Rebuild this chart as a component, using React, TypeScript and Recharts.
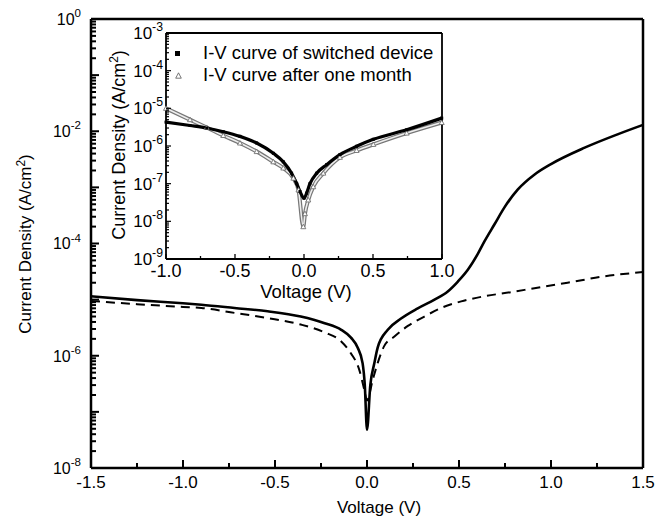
import React from 'react';
import { LineChart, Line, XAxis, YAxis, ReferenceLine } from 'recharts';

// main plot: solid curve
const solidV = [-1.5, -1.25, -1.0, -0.9, -0.72, -0.54, -0.36, -0.23, -0.14, -0.087, -0.051, -0.024, -0.012, 0, 0.018, 0.04, 0.058, 0.113, 0.185, 0.276, 0.367, 0.439, 0.494, 0.548, 0.603, 0.639, 0.693, 0.747, 0.82, 0.911, 1.0, 1.183, 1.365, 1.5];
const solidJ = [1.15e-5, 9.8e-6, 8.6e-6, 8.1e-6, 7.1e-6, 6.2e-6, 5.0e-6, 3.8e-6, 2.9e-6, 2.1e-6, 1.4e-6, 7.4e-7, 3.0e-7, 4.8e-8, 3.0e-7, 7.4e-7, 1.4e-6, 2.9e-6, 4.6e-6, 7.0e-6, 1.0e-5, 1.4e-5, 2.1e-5, 3.4e-5, 6.6e-5, 1.1e-4, 2.2e-4, 4.4e-4, 9.2e-4, 1.7e-3, 2.6e-3, 5.1e-3, 8.9e-3, 1.3e-2];

// main plot: dashed curve
const dashedV = [-1.5, -1.25, -1.0, -0.9, -0.72, -0.54, -0.36, -0.23, -0.14, -0.087, -0.042, -0.015, 0, 0.031, 0.058, 0.094, 0.149, 0.222, 0.312, 0.403, 0.512, 0.639, 0.784, 0.91, 1.09, 1.29, 1.5];
const dashedJ = [9.5e-6, 8.3e-6, 7.4e-6, 7.1e-6, 5.8e-6, 4.7e-6, 3.6e-6, 2.6e-6, 1.8e-6, 1.1e-6, 5.6e-7, 2.5e-7, 1.6e-7, 3.7e-7, 7.4e-7, 1.5e-6, 2.2e-6, 3.4e-6, 5.0e-6, 7.1e-6, 9.3e-6, 1.15e-5, 1.36e-5, 1.6e-5, 2.0e-5, 2.6e-5, 3.1e-5];

// inset: switched device
const switchedV = [-1.0, -0.826, -0.705, -0.585, -0.464, -0.343, -0.222, -0.15, -0.09, -0.053, -0.029, 0, 0.019, 0.043, 0.092, 0.164, 0.26, 0.381, 0.502, 0.744, 0.998];
const switchedJ = [4.3e-6, 3.5e-6, 3.0e-6, 2.4e-6, 1.8e-6, 1.2e-6, 6.4e-7, 3.8e-7, 1.9e-7, 1.0e-7, 6.2e-8, 4.1e-8, 5.6e-8, 1.0e-7, 1.9e-7, 3.2e-7, 5.9e-7, 9.8e-7, 1.5e-6, 2.7e-6, 5.5e-6];

// inset: after one month
const monthV = [-1.0, -0.826, -0.705, -0.585, -0.464, -0.343, -0.222, -0.15, -0.077, -0.04, -0.005, 0.007, 0.031, 0.067, 0.14, 0.26, 0.381, 0.502, 0.744, 0.998];
const monthJ = [1.0e-5, 5.0e-6, 3.1e-6, 1.9e-6, 1.2e-6, 7.1e-7, 3.8e-7, 2.6e-7, 1.4e-7, 6.8e-8, 7.2e-9, 1.6e-8, 3.7e-8, 8.3e-8, 1.9e-7, 5.0e-7, 7.6e-7, 1.1e-6, 2.2e-6, 4.2e-6];

const mainXTicks = [-1.5, -1.25, -1.0, -0.75, -0.5, -0.25, 0, 0.25, 0.5, 0.75, 1.0, 1.25, 1.5];
const insetXTicks = [-1.0, -0.75, -0.5, -0.25, 0, 0.25, 0.5, 0.75, 1.0];
const mainDecades = [1e-8, 1e-7, 1e-6, 1e-5, 1e-4, 1e-3, 1e-2, 1e-1, 1];
const insetDecades = [1e-9, 1e-8, 1e-7, 1e-6, 1e-5, 1e-4, 1e-3];
const minorSteps = [2, 3, 4, 5, 6, 7, 8, 9];

const FONT = '"Liberation Sans", Arial, sans-serif';

const toRows = (xs: number[], ys: number[]) => xs.map((v, i) => ({ v, j: ys[i] }));
const logTicks = (decades: number[]) => {
  const top = decades[decades.length - 1];
  const out: number[] = [];
  decades.forEach((d) => {
    out.push(d);
    if (d < top) minorSteps.forEach((k) => out.push(k * d));
  });
  return out;
};

const solidData = toRows(solidV, solidJ);
const dashedData = toRows(dashedV, dashedJ);
const switchedData = toRows(switchedV, switchedJ);
const monthData = toRows(monthV, monthJ);

const isHalf = (v: number) => Math.abs(v * 2 - Math.round(v * 2)) < 1e-6;

const XTick = (props: any) => {
  const { x, y, payload, fs, major, minor, dy, sw } = props;
  const v = payload.value;
  const m = isHalf(v);
  const len = m ? major : minor;
  return (
    <g>
      <line x1={x} x2={x} y1={y} y2={y - len} stroke="#000" strokeWidth={sw} />
      {m && (
        <text x={x} y={y + dy} textAnchor="middle" fontSize={fs} fontFamily={FONT} fill="#000">
          {v.toFixed(1)}
        </text>
      )}
    </g>
  );
};

const YTick = (props: any) => {
  const { x, y, payload, fs, major, minor, side, every, sw, gap } = props;
  const v = payload.value;
  const e = Math.round(Math.log10(v));
  const dec = Math.abs(Math.log10(v) - e) < 1e-6;
  const dir = side === 'left' ? 1 : -1;
  const showLabel = side === 'left' && dec && e % every === 0;
  const len = dec ? major : minor;
  return (
    <g>
      <line x1={x} x2={x + dir * len} y1={y} y2={y} stroke="#000" strokeWidth={sw} />
      {showLabel && (
        <text x={x - gap} y={y + fs * 0.36} textAnchor="end" fontSize={fs} fontFamily={FONT} fill="#000">
          <tspan>10</tspan>
          <tspan dy={-fs * 0.48} fontSize={fs * 0.72}>{e}</tspan>
        </text>
      )}
    </g>
  );
};

const Square = (props: any) => {
  const { cx, cy } = props;
  if (cx == null || cy == null) return null;
  return <rect x={cx - 1.5} y={cy - 1.5} width={3} height={3} fill="#000" />;
};

const Tri = (props: any) => {
  const { cx, cy } = props;
  if (cx == null || cy == null) return null;
  return <path d={`M${cx},${cy - 2.5}L${cx + 2.5},${cy + 2}L${cx - 2.5},${cy + 2}Z`} fill="#fff" stroke="#666" strokeWidth={0.8} />;
};

export default function App() {
  const mainYTicks = logTicks(mainDecades);
  const insetYTicks = logTicks(insetDecades);
  return (
    <div style={{ position: 'absolute', left: 0, top: 0, width: 666, height: 520, background: '#fff', fontFamily: FONT }}>
      <LineChart width={666} height={520} data={solidData} margin={{ top: 19, right: 0, bottom: 22, left: 51 }}>
        <XAxis
          dataKey="v"
          type="number"
          domain={[-1.5, 1.5]}
          ticks={mainXTicks}
          interval={0}
          height={30}
          tickSize={0}
          tickMargin={0}
          tickLine={false}
          axisLine={{ stroke: '#000', strokeWidth: 2.5 }}
          tick={(p: any) => <XTick {...p} fs={17} major={8} minor={5} dy={20} sw={2} />}
        />
        <YAxis
          type="number"
          scale="log"
          domain={[1e-8, 1]}
          ticks={mainYTicks}
          interval={0}
          width={40}
          tickSize={0}
          tickMargin={0}
          tickLine={false}
          axisLine={{ stroke: '#000', strokeWidth: 2.5 }}
          tick={(p: any) => <YTick {...p} fs={16} major={8} minor={5} side="left" every={2} sw={2} gap={10} />}
        />
        <YAxis
          yAxisId="right"
          orientation="right"
          type="number"
          scale="log"
          domain={[1e-8, 1]}
          ticks={mainYTicks}
          interval={0}
          width={23}
          tickSize={0}
          tickMargin={0}
          tickLine={false}
          axisLine={{ stroke: '#000', strokeWidth: 2.5 }}
          tick={(p: any) => <YTick {...p} fs={16} major={8} minor={5} side="right" every={2} sw={2} gap={10} />}
        />
        <ReferenceLine y={1} stroke="#000" strokeWidth={2.5} />
        <Line data={dashedData} dataKey="j" type="monotone" stroke="#000" strokeWidth={2} strokeDasharray="9 6" dot={false} isAnimationActive={false} />
        <Line data={solidData} dataKey="j" type="monotone" stroke="#000" strokeWidth={2.6} dot={false} isAnimationActive={false} />
      </LineChart>

      <div style={{ position: 'absolute', left: 25, top: 244, transform: 'translate(-50%, -50%) rotate(-90deg)', whiteSpace: 'nowrap', fontSize: 17 }}>
        Current Density (A/cm<sup style={{ fontSize: 12 }}>2</sup>)
      </div>
      <div style={{ position: 'absolute', left: 379, top: 499, transform: 'translateX(-50%)', whiteSpace: 'nowrap', fontSize: 17, lineHeight: '18px' }}>
        Voltage (V)
      </div>

      <div style={{ position: 'absolute', left: 0, top: 0 }}>
        <LineChart width={460} height={310} data={switchedData} margin={{ top: 33, right: 0, bottom: 21, left: 126 }}>
          <XAxis
            dataKey="v"
            type="number"
            domain={[-1, 1]}
            ticks={insetXTicks}
            interval={0}
            height={30}
            tickSize={0}
            tickMargin={0}
            tickLine={false}
            axisLine={{ stroke: '#000', strokeWidth: 1.8 }}
            tick={(p: any) => <XTick {...p} fs={18} major={5} minor={3} dy={18} sw={1.3} />}
          />
          <YAxis
            type="number"
            scale="log"
            domain={[1e-9, 1e-3]}
            ticks={insetYTicks}
            interval={0}
            width={40}
            tickSize={0}
            tickMargin={0}
            tickLine={false}
            axisLine={{ stroke: '#000', strokeWidth: 1.8 }}
            tick={(p: any) => <YTick {...p} fs={17} major={5} minor={3} side="left" every={1} sw={1.2} gap={3} />}
          />
          <YAxis
            yAxisId="right"
            orientation="right"
            type="number"
            scale="log"
            domain={[1e-9, 1e-3]}
            ticks={insetYTicks}
            interval={0}
            width={18}
            tickSize={0}
            tickMargin={0}
            tickLine={false}
            axisLine={{ stroke: '#000', strokeWidth: 1.8 }}
            tick={(p: any) => <YTick {...p} fs={17} major={5} minor={3} side="right" every={1} sw={1.2} gap={3} />}
          />
          <ReferenceLine y={1e-3} stroke="#000" strokeWidth={1.8} />
          <Line data={monthData} dataKey="j" type="monotone" stroke="#777" strokeWidth={4} dot={false} isAnimationActive={false} />
          <Line data={monthData} dataKey="j" type="monotone" stroke="#eee" strokeWidth={1.6} dot={<Tri />} isAnimationActive={false} />
          <Line data={switchedData} dataKey="j" type="monotone" stroke="#000" strokeWidth={3.2} dot={<Square />} isAnimationActive={false} />
        </LineChart>

        <div style={{ position: 'absolute', left: 118, top: 145, transform: 'translate(-50%, -50%) rotate(-90deg)', whiteSpace: 'nowrap', fontSize: 18 }}>
          Current Density (A/cm<sup style={{ fontSize: 12 }}>2</sup>)
        </div>
        <div style={{ position: 'absolute', left: 306, top: 283, transform: 'translateX(-50%)', whiteSpace: 'nowrap', fontSize: 18.5, lineHeight: '18px' }}>
          Voltage (V)
        </div>
        <div style={{ position: 'absolute', left: 175, top: 42, fontSize: 18.5, lineHeight: '22px' }}>
          <div style={{ display: 'flex', alignItems: 'center' }}>
            <span style={{ display: 'inline-block', width: 5, height: 5, background: '#000', marginRight: 23 }} />
            I-V curve of switched device
          </div>
          <div style={{ display: 'flex', alignItems: 'center' }}>
            <svg width={7} height={7} style={{ marginRight: 21 }}>
              <path d="M3.5,0.8L6.3,6.2L0.7,6.2Z" fill="#fff" stroke="#555" strokeWidth={0.8} />
            </svg>
            I-V curve after one month
          </div>
        </div>
      </div>
    </div>
  );
}
